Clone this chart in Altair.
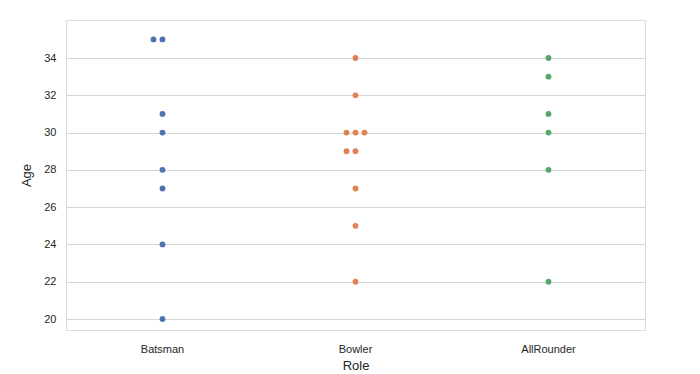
import altair as alt
import pandas as pd

roles = ["Batsman", "Bowler", "AllRounder"]
batsman_ages = [35, 35, 31, 30, 28, 27, 24, 20]
bowler_ages = [34, 32, 30, 30, 30, 29, 29, 27, 25, 22]
allrounder_ages = [34, 33, 31, 30, 28, 22]
colors = ["#4c72b0", "#dd8452", "#55a868"]

rows = []
for role, ages in zip(roles, [batsman_ages, bowler_ages, allrounder_ages]):
    counts = {}
    for a in ages:
        counts[a] = counts.get(a, 0) + 1
    for a, n in counts.items():
        # simple swarm placement: one step per point in a group of equal ages
        if n == 1:
            offs = [0]
        elif n == 2:
            offs = [-1, 0]
        else:
            offs = [i - (n - 1) / 2 for i in range(n)]
        for o in offs:
            rows.append({"Role": role, "Age": a, "off": o})
df = pd.DataFrame(rows)

font = "Liberation Sans"
chart = alt.Chart(df).mark_circle(size=34, opacity=1).encode(
    x=alt.X("Role:N", sort=roles, title="Role",
            scale=alt.Scale(paddingInner=0, paddingOuter=0),
            axis=alt.Axis(labelAngle=0, ticks=False, domain=False, grid=False,
                          labelFontSize=11, titleFontSize=13, labelPadding=13,
                          titlePadding=5, labelColor="#262626", titleColor="#262626",
                          labelFont=font, titleFont=font, titleFontWeight="normal")),
    xOffset=alt.XOffset("off:Q", scale=alt.Scale(domain=[-10.7, 10.7])),
    y=alt.Y("Age:Q", title="Age", scale=alt.Scale(domain=[19.41, 36.04], nice=False, zero=False),
            axis=alt.Axis(values=list(range(20, 35, 2)), ticks=False, domain=False,
                          gridColor="#d5d5d5", gridWidth=1, labelFontSize=11, titleFontSize=13,
                          labelPadding=10, titlePadding=10, labelColor="#262626",
                          titleColor="#262626", labelFont=font, titleFont=font,
                          titleFontWeight="normal")),
    color=alt.Color("Role:N", sort=roles, scale=alt.Scale(domain=roles, range=colors), legend=None),
).properties(
    width=579, height=310,
    autosize=alt.AutoSizeParams(type="none"),
    padding={"left": 58, "top": 12, "right": 10, "bottom": 46},
).configure_view(stroke="#cccccc", strokeWidth=1.5).configure(background="white")

chart.save("out.html", embed_options={"renderer": "svg", "actions": False})
